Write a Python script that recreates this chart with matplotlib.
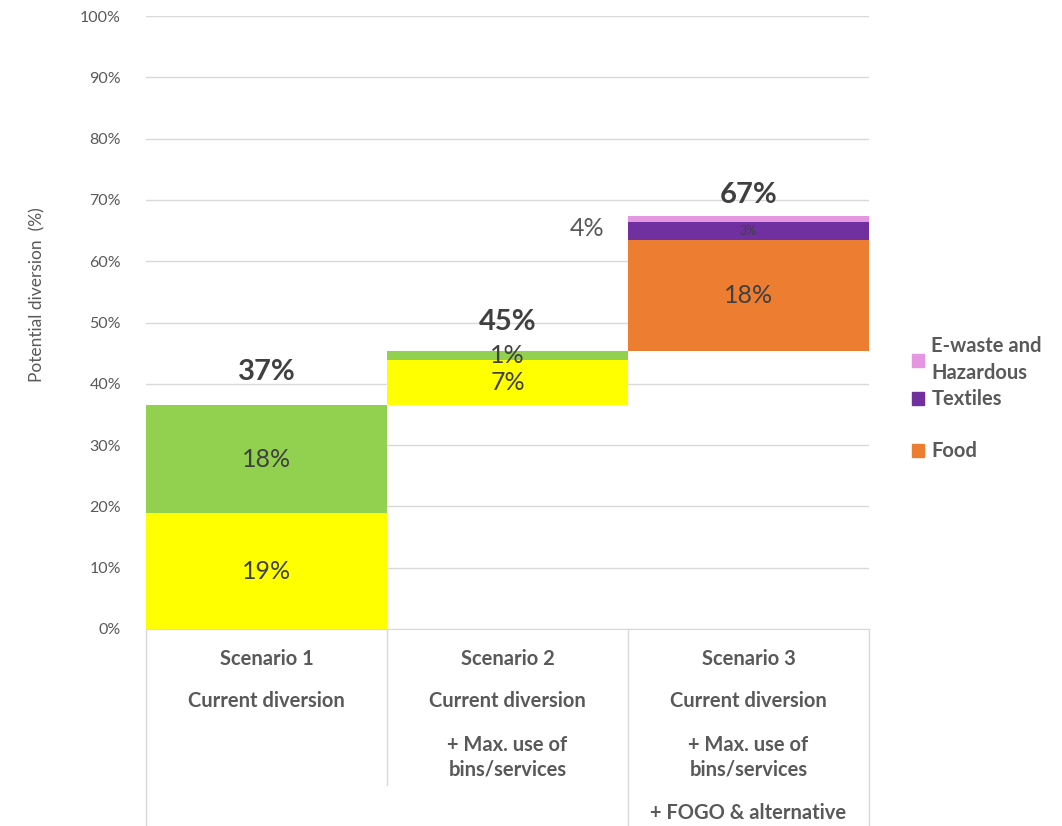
import matplotlib.pyplot as plt
from matplotlib.patches import Patch
from matplotlib.transforms import blended_transform_factory
import numpy as np

plt.rcParams['font.family'] = ['Lato', 'DejaVu Sans']

# data
categories = ["Scenario 1", "Scenario 2", "Scenario 3"]
yellow = [18.9, 7.4, 0.0]
green = [17.6, 1.4, 0.0]
food = [0.0, 0.0, 18.1]
textiles = [0.0, 0.0, 3.0]
ewaste = [0.0, 0.0, 0.9]
yellow_labels = ["19%", "7%", ""]
green_labels = ["18%", "1%", ""]
food_labels = ["", "", "18%"]
textiles_labels = ["", "", "3%"]
total_labels = ["37%", "45%", "67%"]
side_label = "4%"
cat_lines = [["Current diversion"],
             ["Current diversion", "+ Max. use of\nbins/services"],
             ["Current diversion", "+ Max. use of\nbins/services", "+ FOGO & alternative"]]

GRAY = "#595959"
DARK = "#404040"
GRID = "#d9d9d9"

x = np.arange(len(categories))
series = [yellow, green, food, textiles, ewaste]
colors = ["#FFFF00", "#92D050", "#ED7D31", "#7030A0", "#E497E0"]
seg_sum = np.sum(series, axis=0)
base = np.concatenate([[0], np.cumsum(seg_sum)[:-1]])
totals = base + seg_sum

fig = plt.figure(figsize=(10.62, 8.26), dpi=100)
ax = fig.add_axes([146/1062, 1-629/826, (869-146)/1062, (629-16)/826])

bottom = base.copy()
bars = []
for vals, c in zip(series, colors):
    b = ax.bar(x, vals, width=1.0, bottom=bottom, color=c, zorder=2)
    bars.append(b)
    bottom = bottom + np.array(vals)

# segment labels
for b, labs, fs in [(bars[0], yellow_labels, 18), (bars[1], green_labels, 18),
                    (bars[2], food_labels, 18), (bars[3], textiles_labels, 9)]:
    for rect, lab in zip(b, labs):
        if lab:
            ax.text(rect.get_x() + rect.get_width()/2, rect.get_y() + rect.get_height()/2,
                    lab, ha="center", va="center", fontsize=fs, color=DARK, zorder=3)

# totals
for xi, t, lab, off in zip(x, totals, total_labels, [33, 29, 21]):
    ax.annotate(lab, (xi, t), xytext=(0, off*0.72), textcoords="offset points",
                ha="center", va="center", fontsize=21, fontweight="bold", color=DARK)

ax.text(x[2] - 0.67, totals[2] - 2.0, side_label, ha="center", va="center",
        fontsize=18, color=GRAY)

ax.set_xlim(-0.5, 2.5)
ax.set_ylim(0, 100)
ax.set_yticks(np.arange(0, 101, 10))
ax.set_yticklabels([f"{v}%" for v in range(0, 101, 10)])
ax.tick_params(axis="y", length=0, pad=18, labelsize=11.5, labelcolor=GRAY)
ax.set_xticks([])
ax.grid(axis="y", color=GRID, lw=1, zorder=0)
for s in ["left", "right", "top"]:
    ax.spines[s].set_visible(False)
ax.spines["bottom"].set_color(GRID)
ax.set_ylabel("Potential diversion  (%)", fontsize=12.5, color=GRAY)
ax.yaxis.set_label_coords(-0.139, 0.546)

# category label table
tr = blended_transform_factory(ax.transData, ax.transAxes)
px = 629 - 16
for xv, yend in [(-0.5, 826), (0.5, 785), (1.5, 826), (2.5, 826)]:
    ax.plot([xv, xv], [0, -(yend - 629)/px], color=GRID, lw=1, transform=tr, clip_on=False)
for xi, cat, lines in zip(x, categories, cat_lines):
    ax.text(xi, -(659 - 629)/px, cat, transform=tr, ha="center", va="center",
            fontsize=14.5, fontweight="bold", color=GRAY)
    ypos = [701, 757, 813]
    for ln, yp in zip(lines, ypos):
        ax.text(xi, -(yp - 629)/px, ln, transform=tr, ha="center", va="center",
                fontsize=14.5, fontweight="bold", color=GRAY, linespacing=1.25)

handles = [Patch(color=colors[4]), Patch(color=colors[3]), Patch(visible=False), Patch(color=colors[2])]
labels = ["E-waste and\nHazardous", "Textiles", " ", "Food"]
leg = fig.legend(handles, labels, loc="upper left", bbox_to_anchor=(894/1062, 1-318/826),
                 frameon=False, labelcolor=GRAY, prop={"weight": "bold", "size": 14.5},
                 handlelength=0.6, handleheight=0.6, handletextpad=0.35, labelspacing=0.3)
for t in leg.get_texts():
    t.set_linespacing(1.45)

fig.savefig("out.png", dpi=100)
